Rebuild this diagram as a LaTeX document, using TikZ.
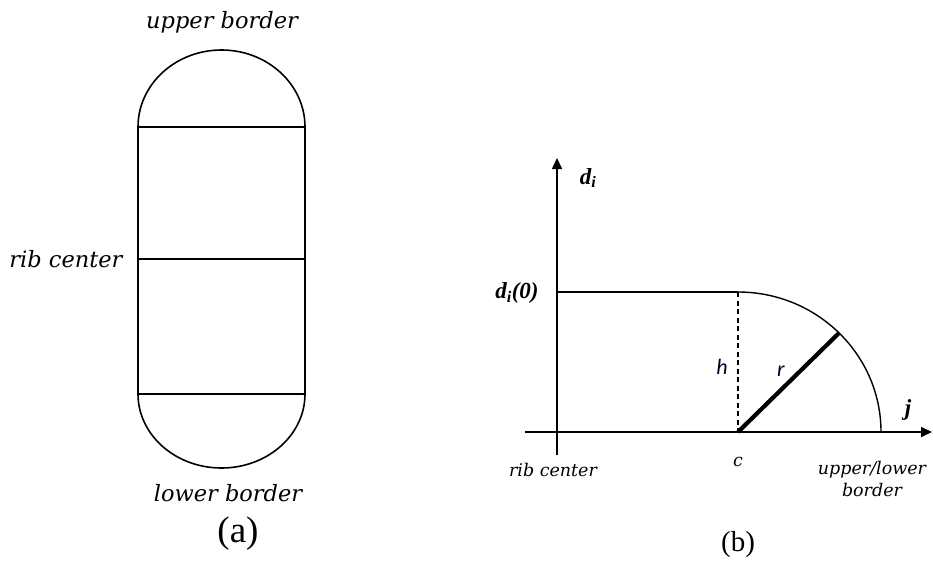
\documentclass[tikz,border=0pt]{standalone}
\usepackage{fontspec}
\setmainfont{Liberation Serif}
\newfontfamily\labfont{DejaVu Serif}
\newfontfamily\calfont{Carlito}
\usetikzlibrary{arrows.meta}
\tikzset{
  shape line/.style={line width=1.6pt, black},
  axis line/.style={line width=1.6pt, black, -{Triangle[length=11pt,width=10pt]}},
  biglab/.style={font=\labfont\itshape\fontsize{22.5}{26}\selectfont, inner sep=0pt},
  smalllab/.style={font=\labfont\itshape\fontsize{17.5}{20}\selectfont, inner sep=0pt, align=center},
  boldlab/.style={font=\bfseries\itshape\fontsize{23}{26}\selectfont, inner sep=0pt},
  callab/.style={font=\calfont\itshape\fontsize{22}{24}\selectfont, inner sep=0pt, text=black!85!blue},
  caption/.style={font=\fontsize{37}{40}\selectfont, inner sep=0pt}
}
\begin{document}
\begin{tikzpicture}[x=1pt,y=-1pt]
\useasboundingbox (0,0) rectangle (933,560);
% ---------- (a) ----------
\coordinate (tl) at (138,127);
\coordinate (tr) at (305,127);
\coordinate (ml) at (138,259);
\coordinate (mr) at (305,259);
\coordinate (bl) at (138,394);
\coordinate (br) at (305,394);
\draw[shape line] (tl) -- (tr);
\draw[shape line] (ml) -- (mr);
\draw[shape line] (bl) -- (br);
\draw[shape line, line width=2.2pt] (tl) -- (bl);
\draw[shape line, line width=2pt] (tr) -- (br);
\draw[shape line] (tl) arc[start angle=180, end angle=360, x radius=83.5, y radius=77];
\draw[shape line] (bl) arc[start angle=180, end angle=0, x radius=83.5, y radius=74];
\node[biglab] (ub) at (222,22) {upper border};
\node[biglab] (rc) at (66,259) {rib center};
\node[biglab] (lb) at (228,493) {lower border};
\node[caption] (capa) at (238,534) {(a)};
% ---------- (b) ----------
\coordinate (o) at (557,432);
\coordinate (vbot) at (557,455);
\coordinate (vtop) at (557,158);
\coordinate (hleft) at (525,432);
\coordinate (hright) at (932,432);
\coordinate (d0) at (557,292);
\coordinate (ctop) at (738,292);
\coordinate (c) at (738,432);
\coordinate (rend) at (839,333);
\draw[axis line] (vbot) -- (vtop);
\draw[axis line] (hleft) -- (hright);
\draw[line width=1.5pt] (d0) -- (ctop);
\draw[line width=1.4pt, dash pattern=on 5pt off 3.5pt] (ctop) -- (c);
\draw[line width=1.4pt] (ctop) arc[start angle=270, end angle=360, x radius=143, y radius=140];
\draw[line width=4.2pt] (c) -- (rend);
\node[boldlab] (di) at (588,178) {d\textsubscript{i}};
\node[boldlab] (di0) at (517,293) {d\textsubscript{i}(0)};
\node[boldlab] (jl) at (908,410) {j};
\node[callab] (hl) at (722,367) {h};
\node[callab] (rl) at (781,371) {r};
\node[smalllab] (cl) at (738,462) {c};
\node[smalllab] (rcb) at (553,470) {rib center};
\node[smalllab] (ulb) at (872,479) {upper/lower\\[2pt]border};
\node[caption, font=\fontsize{29}{32}\selectfont] (capb) at (738,545) {(b)};
\end{tikzpicture}
\end{document}
